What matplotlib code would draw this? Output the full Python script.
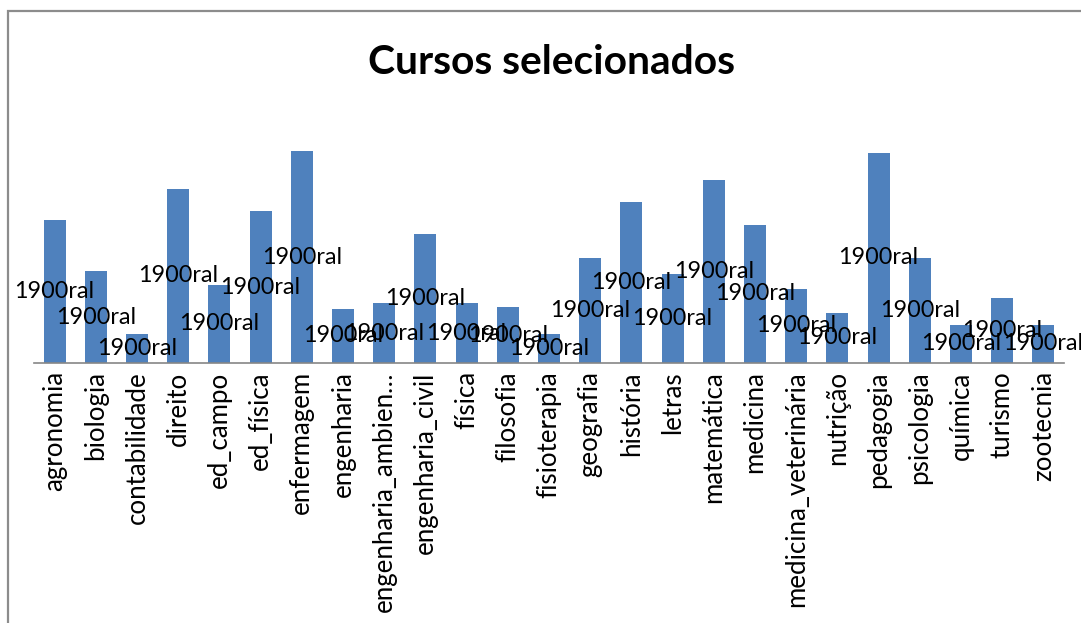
import matplotlib.pyplot as plt
from matplotlib.patches import Rectangle

plt.rcParams['font.family'] = ['Lato', 'DejaVu Sans']

# dados (altura relativa das barras)
cursos = ["agronomia", "biologia", "contabilidade", "direito", "ed_campo", "ed_física",
          "enfermagem", "engenharia", "engenharia_ambien…", "engenharia_civil", "física",
          "filosofia", "fisioterapia", "geografia", "história", "letras", "matemática",
          "medicina", "medicina_veterinária", "nutrição", "pedagogia", "psicologia",
          "química", "turismo", "zootecnia"]
valores = [143, 92, 29, 174, 78, 152, 212, 54, 60, 129, 60, 56, 29, 105, 161, 89,
           183, 138, 74, 50, 210, 105, 38, 65, 38]
rotulos = ["1900ral"] * len(cursos)

W, H = 1081, 623
fig = plt.figure(figsize=(W / 100, H / 100), dpi=100)
fig.patch.set_facecolor("white")

# === area do grafico ===
ax = fig.add_axes([34 / W, 1 - 363 / H, 1030 / W, 240 / H])
x = range(len(cursos))
ax.bar(x, valores, width=0.53, color="#4F81BD")
ax.set_xlim(-0.5, len(cursos) - 0.5)
ax.set_ylim(0, 240)

for s in ["top", "right", "left"]:
    ax.spines[s].set_visible(False)
ax.spines["bottom"].set_color("#868686")
ax.spines["bottom"].set_linewidth(1.2)
ax.set_yticks([])
ax.set_xticks(list(x))
ax.set_xticklabels(cursos, rotation=90, fontsize=18.6, va="top")
ax.tick_params(axis="x", length=0, pad=6)

# rotulos de dados no centro das barras
for i, (v, r) in enumerate(zip(valores, rotulos)):
    ax.text(i, v / 2, r, ha="center", va="center", fontsize=16.8, clip_on=False)

# === titulo ===
fig.text(551 / W, 1 - 63 / H, "Cursos selecionados", ha="center", va="center",
         fontsize=29.3, fontweight="bold")

# borda do grafico
fig.add_artist(Rectangle((8 / W, -0.1), 1.2, (1 - 11 / H) + 0.1, transform=fig.transFigure,
                         fill=False, edgecolor="#8c8c8c", linewidth=1.6))

fig.savefig("out.png", dpi=100)
